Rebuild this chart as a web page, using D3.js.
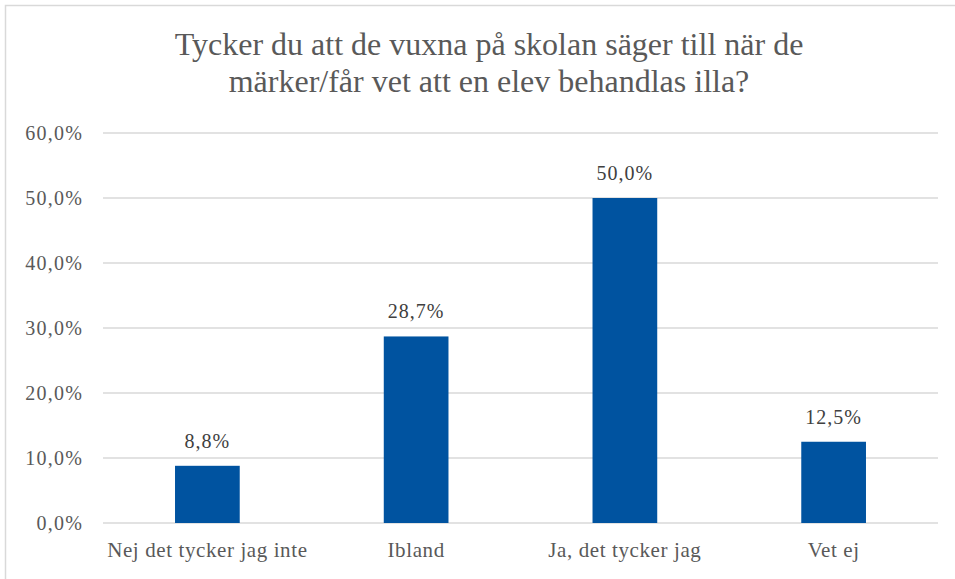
<!DOCTYPE html>
<html><head><meta charset="utf-8">
<script src="https://cdn.jsdelivr.net/npm/d3@7"></script>
<style>body{margin:0;background:#fff}svg{display:block}</style>
</head><body>
<script>
const categories = ["Nej det tycker jag inte", "Ibland", "Ja, det tycker jag", "Vet ej"];
const values = [8.8, 28.7, 50.0, 12.5];
const yTicks = [0, 10, 20, 30, 40, 50, 60];
const titleLines = ["Tycker du att de vuxna på skolan säger till när de", "märker/får vet att en elev behandlas illa?"];

const W = 955, H = 579;
const FONT = "Liberation Serif";
const fmt = v => d3.format(".1f")(v).replace(".", ",") + "%";
const svg = d3.select("body").append("svg").attr("width", W).attr("height", H)
  .attr("font-family", FONT);
svg.append("rect").attr("width", W).attr("height", H).attr("fill", "#fff");
svg.append("path").attr("d", `M5.5,${H} V5.5 H${W}`).attr("fill", "none")
  .attr("stroke", "#d9d9d9").attr("stroke-width", 1.5);

const x = d3.scaleBand().domain(categories).range([103, 938]).paddingInner(0.69).paddingOuter(0.345);
const y = d3.scaleLinear().domain([0, 60]).range([523, 133]);

svg.append("g").selectAll("line").data(yTicks).join("line")
  .attr("x1", 103).attr("x2", 938).attr("y1", d => y(d)).attr("y2", d => y(d))
  .attr("stroke", "#d9d9d9").attr("stroke-width", 1.3);

const gy = svg.append("g").attr("transform", "translate(103,0)")
  .call(d3.axisLeft(y).tickValues(yTicks).tickFormat(fmt).tickSize(0).tickPadding(20))
  .attr("font-family", FONT).attr("font-size", 20);
gy.select(".domain").remove();
gy.selectAll("text").attr("fill", "#595959").attr("letter-spacing", 1.2);

const gx = svg.append("g").attr("transform", "translate(0,523)")
  .call(d3.axisBottom(x).tickSize(0).tickPadding(19))
  .attr("font-family", FONT).attr("font-size", 21);
gx.select(".domain").remove();
gx.selectAll("text").attr("fill", "#595959").attr("letter-spacing", 0.6);

svg.append("g").selectAll("rect").data(values).join("rect")
  .attr("x", (d, i) => x(categories[i])).attr("width", x.bandwidth())
  .attr("y", d => y(d)).attr("height", d => y(0) - y(d)).attr("fill", "#0053A0");

svg.append("g").attr("font-family", FONT).attr("font-size", 20)
  .selectAll("text").data(values).join("text")
  .attr("x", (d, i) => x(categories[i]) + x.bandwidth() / 2).attr("y", d => y(d) - 18)
  .attr("text-anchor", "middle").attr("fill", "#404040").attr("letter-spacing", 1)
  .text(fmt);

svg.append("g").attr("font-family", FONT).attr("font-size", 32)
  .selectAll("text").data(titleLines).join("text")
  .attr("x", 489).attr("y", (d, i) => 55 + i * 37)
  .attr("text-anchor", "middle").attr("fill", "#595959")
  .text(d => d);
</script>
</body></html>
